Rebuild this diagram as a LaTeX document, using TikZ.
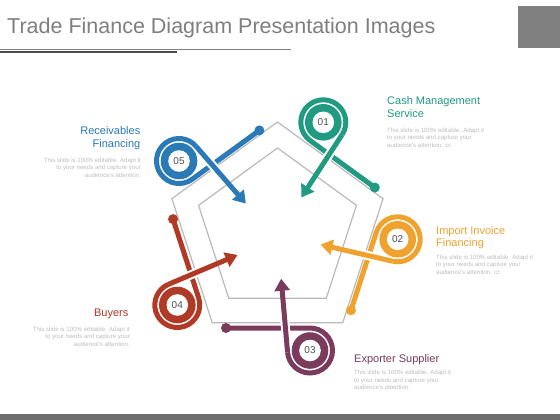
\documentclass[tikz,border=0pt]{standalone}
\usepackage{fontspec}
\setmainfont{Liberation Sans}
\usetikzlibrary{calc,arrows.meta}
\definecolor{cteal}{HTML}{209A80}
\definecolor{corange}{HTML}{F0A22E}
\definecolor{cplum}{HTML}{7A3B5C}
\definecolor{cred}{HTML}{B03A26}
\definecolor{cblue}{HTML}{2A7AB8}
\definecolor{titlegray}{HTML}{7F7F7F}
\definecolor{edgegray}{HTML}{BABABA}
\definecolor{smallgray}{HTML}{BDBDBD}
\definecolor{numgray}{HTML}{505050}
\definecolor{bargray}{HTML}{6E6E6E}
\definecolor{boxgray}{HTML}{808080}

\tikzset{
  loopline/.style={line width=5pt, draw=#1},
  numtext/.style={font=\fontsize{10}{12}\selectfont, text=numgray, inner sep=0pt},
  headtext/.style={font=\fontsize{11}{13}\selectfont, inner sep=0pt},
  smalltext/.style={font=\fontsize{6.1}{7}\selectfont, text=smallgray, inner sep=0pt},
  pentagon/.style={draw=edgegray, line width=1.2pt, line join=miter},
}

% #1 name, #2 colour, #3 Cx, #4 Cy, #5 entry direction, #6 exit direction,
% #7 entry length, #8 exit length, #9 number
\newcommand\pinloop[9]{%
  \coordinate (#1c) at (#3,#4);
  \coordinate (#1p) at ($(#1c)+({#5-90}:22.5)$);
  \coordinate (#1q) at ($(#1c)+({#6-90}:22.5)$);
  \coordinate (#1d) at ($(#1p)+({#5+180}:#7)$);
  \coordinate (#1t) at ($(#1q)+({#6}:#8)$);
  \pgfmathsetmacro\pinsweep{mod(#6-#5+720,360)}
  \draw[loopline=#2] (#1d) -- (#1p) arc[start angle={#5-90}, delta angle=\pinsweep, radius=22.5];
  \draw[white, line width=9pt] ($(#1q)+({#6}:17)$) -- ($(#1q)+({#6}:33)$);
  \draw[loopline=#2, -{Triangle[length=12pt,width=15pt]}] (#1q) -- (#1t);
  \fill[#2] (#1d) circle[radius=5];
  \fill[#2] (#1c) circle[radius=18.3];
  \fill[white] (#1c) circle[radius=10.8];
  \node[numtext] (#1n) at (#1c) {#9};
}

\begin{document}
\begin{tikzpicture}[x=1pt, y=-1pt]
\useasboundingbox (0,0) rectangle (560,420);
\fill[white] (0,0) rectangle (560,420);

% header
\node[anchor=base west, inner sep=0pt, text=titlegray, font=\fontsize{21.5}{26}\selectfont] (title) at (7,34) {Trade Finance Diagram Presentation Images};
\draw[titlegray, line width=1pt] (0,50) coordinate (ula) -- (291,50) coordinate (ulb);
\draw[black!70, line width=2pt] (0,52.5) coordinate (uma) -- (177,52.5) coordinate (umb);
\fill[boxgray] (518,6) rectangle (560,48);
\fill[bargray] (0,414) rectangle (560,420);

% pentagons
\coordinate (po) at (277.5,233);
\coordinate (pi) at (277.5,231);
\draw[pentagon] ($(po)+(270:111)$) -- ($(po)+(342:111)$) -- ($(po)+(54:111)$) -- ($(po)+(126:111)$) -- ($(po)+(198:111)$) -- cycle;
\draw[pentagon] ($(pi)+(270:83)$) -- ($(pi)+(342:83)$) -- ($(pi)+(54:83)$) -- ($(pi)+(126:83)$) -- ($(pi)+(198:83)$) -- cycle;

% loops
\pinloop{a}{cteal}{323.3}{122.3}{216}{123}{80}{75}{01}
\pinloop{b}{corange}{397.7}{239.3}{288}{193}{82}{74}{02}
\pinloop{c}{cplum}{310}{350.5}{0}{265}{84}{74}{03}
\pinloop{e}{cred}{177.3}{305}{72}{337}{83}{75}{04}
\pinloop{f}{cblue}{179}{161}{144}{49}{83}{76}{05}

% texts 01
\node[headtext, text=cteal, anchor=base west] (h1a) at (387,105) {Cash Management};
\node[headtext, text=cteal, anchor=base west] (h1b) at (387,117.5) {Service};
\node[smalltext, anchor=base west] (s1a) at (387,132) {This slide is 100\% editable.  Adapt it};
\node[smalltext, anchor=base west] (s1b) at (387,139.5) {to your needs and capture your};
\node[smalltext, anchor=base west] (s1c) at (387,147) {audience's attention. cc};

% texts 02
\node[headtext, text=corange, anchor=base west] (h2a) at (436,234) {Import Invoice};
\node[headtext, text=corange, anchor=base west] (h2b) at (436,246.5) {Financing};
\node[smalltext, anchor=base west] (s2a) at (436,259) {This slide is 100\% editable.  Adapt it};
\node[smalltext, anchor=base west] (s2b) at (436,266.5) {to your needs and capture your};
\node[smalltext, anchor=base west] (s2c) at (436,274) {audience's attention. cc};

% texts 03
\node[headtext, text=cplum, anchor=base west] (h3a) at (354,362.7) {Exporter Supplier};
\node[smalltext, anchor=base west] (s3a) at (354,374.5) {This slide is 100\% editable.  Adapt it};
\node[smalltext, anchor=base west] (s3b) at (354,382) {to your needs and capture your};
\node[smalltext, anchor=base west] (s3c) at (354,389.5) {audience's attention.};

% texts 04
\node[headtext, text=cred, anchor=base east] (h4a) at (128.5,316.7) {Buyers};
\node[smalltext, anchor=base east] (s4a) at (130,331) {This slide is 100\% editable.  Adapt it};
\node[smalltext, anchor=base east] (s4b) at (130,338.5) {to your needs and capture your};
\node[smalltext, anchor=base east] (s4c) at (130,346) {audience's attention.};

% texts 05
\node[headtext, text=cblue, anchor=base east] (h5a) at (140.5,135) {Receivables};
\node[headtext, text=cblue, anchor=base east] (h5b) at (140.5,147) {Financing};
\node[smalltext, anchor=base east] (s5a) at (141,162) {This slide is 100\% editable.  Adapt it};
\node[smalltext, anchor=base east] (s5b) at (141,169.5) {to your needs and capture your};
\node[smalltext, anchor=base east] (s5c) at (141,177) {audience's attention.};
\end{tikzpicture}
\end{document}
